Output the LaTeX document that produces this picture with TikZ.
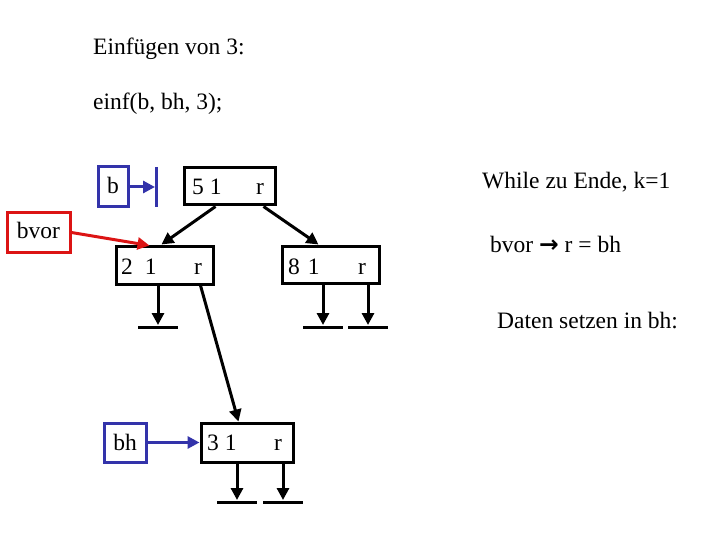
\documentclass[tikz,border=0pt]{standalone}
\usepackage{fontspec}
\setmainfont{Liberation Serif}
\newfontfamily\symfont{DejaVu Sans}
\usetikzlibrary{arrows.meta,calc}
\begin{document}
\begin{tikzpicture}[x=1pt,y=-1pt,
  txt/.style={inner sep=0pt,anchor=base west,font=\fontsize{23.5}{27}\selectfont},
  boxk/.style={draw=black,line width=3pt,inner sep=0pt},
  boxb/.style={draw=myblue,line width=3pt,inner sep=0pt},
  boxr/.style={draw=myred,line width=3pt,inner sep=0pt},
  ptr/.style={line width=3pt,-{Triangle[length=12pt,width=12pt]}},
  gnd/.style={line width=3pt}]
\definecolor{myblue}{RGB}{51,51,170}
\definecolor{myred}{RGB}{220,20,20}
\useasboundingbox (0,0) rectangle (720,540);
% titles
\node[txt] (t1) at (93,55) {Einfügen von 3:};
\node[txt] (t2) at (93,110) {einf(b, bh, 3);};
\node[txt] (t3) at (482,189) {While zu Ende, k=1};
\node[txt] (t4) at (490,252) {bvor {\symfont\bfseries →} r = bh};
\node[txt] (t5) at (497,328) {Daten setzen in bh:};
% boxes
\node[boxb,minimum width=30pt,minimum height=40pt] (b) at (113,187) {};
\node[txt,anchor=base] at (113,194) {b};
\node[boxk,minimum width=91pt,minimum height=37pt] (n5) at (229.5,186.5) {};
\node[boxr,minimum width=63pt,minimum height=39pt] (bvor) at (38.5,232.5) {};
\node[txt,anchor=base] at (38.5,239) {bvor};
\node[boxk,minimum width=97pt,minimum height=38pt] (n2) at (164.5,265) {};
\node[boxk,minimum width=97pt,minimum height=37pt] (n8) at (330.5,264.5) {};
\node[boxb,minimum width=42pt,minimum height=39pt] (bh) at (125,442.5) {};
\node[txt,anchor=base] at (125,450) {bh};
\node[boxk,minimum width=92pt,minimum height=39pt] (n3) at (247,442.5) {};
% box texts
\node[txt] at (192,195) {5\hspace{6pt}1};
\node[txt] at (256,195) {r};
\node[txt] at (121,274) {2\hspace{12pt}1};
\node[txt] at (194,274) {r};
\node[txt] at (288,274) {8\hspace{8pt}1};
\node[txt] at (358,274) {r};
\node[txt] at (207,450) {3\hspace{6pt}1};
\node[txt] at (274,450) {r};
% b pointer to bar
\coordinate (barT) at (156,167);
\coordinate (barB) at (156,207);
\draw[myblue,line width=3pt] (barT) -- (barB);
\draw[myblue,ptr] (b.east) -- ($(barT |- b.east)+(-1,0)$);
% bh pointer
\draw[myblue,ptr] (bh.east) -- (n3.west);
% bvor pointer
\draw[myred,ptr] (bvor.east) -- ($(n2.north west)+(35,1)$);
% tree pointers
\draw[ptr] ($(n5.south west)+(33,0)$) -- ($(n2.north west)+(47,0)$);
\draw[ptr] ($(n5.south west)+(81,0)$) -- ($(n8.north west)+(38,0)$);
\draw[ptr] ($(n2.south west)+(86,0)$) -- ($(n3.north west)+(39,0)$);
% null pointers with ground lines
\coordinate (g1) at (158,327);
\coordinate (g2) at (323,327);
\coordinate (g3) at (368,327);
\coordinate (g4) at (237,502);
\coordinate (g5) at (283,502);
\draw[ptr] (n2.south west -| g1) -- ($(g1)+(0,-2)$);
\draw[gnd] ($(g1)+(-20,0)$) -- ($(g1)+(20,0)$);
\draw[ptr] (n8.south west -| g2) -- ($(g2)+(0,-2)$);
\draw[gnd] ($(g2)+(-20,0)$) -- ($(g2)+(20,0)$);
\draw[ptr] (n8.south west -| g3) -- ($(g3)+(0,-2)$);
\draw[gnd] ($(g3)+(-20,0)$) -- ($(g3)+(20,0)$);
\draw[ptr] (n3.south west -| g4) -- ($(g4)+(0,-2)$);
\draw[gnd] ($(g4)+(-20,0)$) -- ($(g4)+(20,0)$);
\draw[ptr] (n3.south west -| g5) -- ($(g5)+(0,-2)$);
\draw[gnd] ($(g5)+(-20,0)$) -- ($(g5)+(20,0)$);
\end{tikzpicture}
\end{document}
